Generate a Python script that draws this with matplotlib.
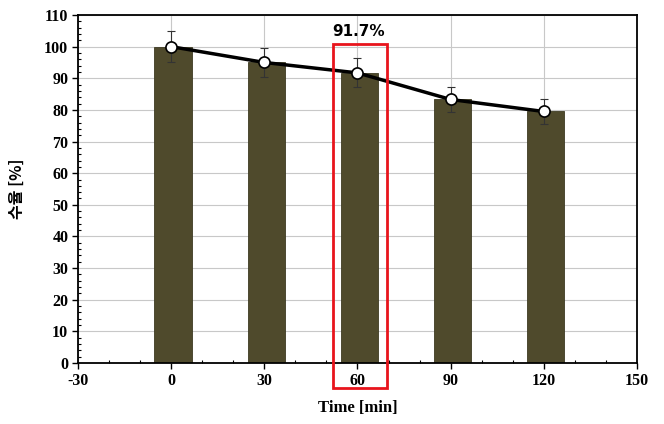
import matplotlib.pyplot as plt
from matplotlib.patches import Rectangle
from matplotlib.ticker import MultipleLocator

plt.rcParams['axes.unicode_minus'] = False

# datos
tiempos = [0, 30, 60, 90, 120]
rendimiento = [100, 95, 91.7, 83.3, 79.5]
error = [5.0, 4.7, 4.6, 4.0, 4.0]
xticks = [-30, 0, 30, 60, 90, 120, 150]
yticks = list(range(0, 111, 10))

serif = 'Liberation Serif'

fig = plt.figure(figsize=(6.64, 4.24), dpi=100)
ax = fig.add_axes([0.1175, 0.1439, 0.8418, 0.8207])

ax.bar([t + 0.6 for t in tiempos], rendimiento, width=12, color='#4f4a2c',
       edgecolor='#3d3a22', linewidth=0.6, zorder=2)
ax.errorbar(tiempos, rendimiento, yerr=error, fmt='none', ecolor='#333333',
            elinewidth=0.8, capsize=3, capthick=0.8, zorder=3)
ax.plot(tiempos, rendimiento, color='black', linewidth=2.5, zorder=4)
ax.plot(tiempos, rendimiento, 'o', markersize=8, markerfacecolor='white',
        markeredgecolor='black', markeredgewidth=1.2, zorder=5)

# recuadro rojo en 60 min
caja = Rectangle((52, -8), 17.5, 108.8, fill=False, edgecolor='#e8141c',
                 linewidth=2, clip_on=False, zorder=6)
ax.add_patch(caja)
ax.text(60.5, 104.8, '91.7%', ha='center', va='center', fontsize=11,
        fontweight='bold', family='DejaVu Sans')

ax.set_xlim(-30, 150)
ax.set_ylim(0, 110)
ax.set_xticks(xticks)
ax.set_yticks(yticks)
ax.xaxis.set_minor_locator(MultipleLocator(10))
ax.yaxis.set_minor_locator(MultipleLocator(2))
ax.grid(True, which='major', color='#c8c8c8', linewidth=0.8, zorder=0)
ax.set_axisbelow(True)

ax.tick_params(which='major', direction='out', length=4, width=1, pad=3)
ax.tick_params(which='minor', direction='in', length=2.5, width=0.8)
for lab in ax.get_xticklabels() + ax.get_yticklabels():
    lab.set_family(serif)
    lab.set_fontweight('bold')
    lab.set_fontsize(11.5)

for s in ax.spines.values():
    s.set_linewidth(1.3)

ax.set_xlabel('Time [min]', family=serif, fontweight='bold', fontsize=12,
              labelpad=8)
ax.set_ylabel('수율 [%]', family=['Noto Sans CJK KR', 'DejaVu Sans'],
              fontweight='bold', fontsize=11.5, labelpad=14)

plt.savefig('out.png', dpi=100)
plt.close()
